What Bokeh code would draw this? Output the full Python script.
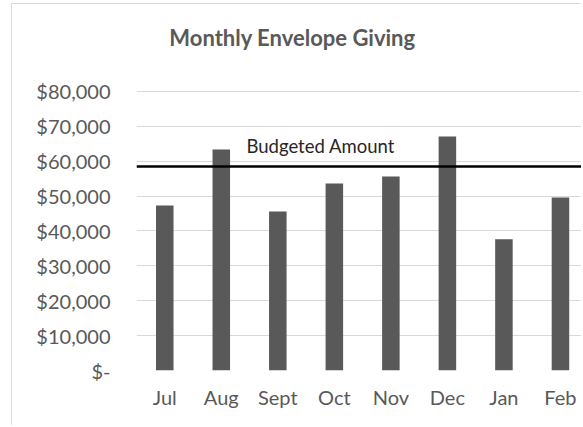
from bokeh.plotting import figure
from bokeh.models import Range1d, FixedTicker, Span, Label, ColumnDataSource
from bokeh.embed import file_html
from bokeh.resources import INLINE

months = ["Jul", "Aug", "Sept", "Oct", "Nov", "Dec", "Jan", "Feb"]
giving = [47300, 63400, 45600, 53600, 55600, 67100, 37600, 49600]
budget = 58500
y_ticks = [0, 10000, 20000, 30000, 40000, 50000, 60000, 70000, 80000]
y_tick_labels = ["$-", "$10,000", "$20,000", "$30,000", "$40,000",
                 "$50,000", "$60,000", "$70,000", "$80,000"]
title_text = "Monthly Envelope Giving"
budget_text = "Budgeted Amount"

FONT = "Lato"
GRAY = "#595959"

xs = list(range(len(months)))
src = ColumnDataSource(dict(x=xs, top=giving))

p = figure(width=570, height=422, output_backend="svg", toolbar_location=None,
           x_range=Range1d(-0.5, 7.39), y_range=Range1d(0, 104946),
           min_border_left=124, min_border_right=0, min_border_top=0,
           min_border_bottom=56)
p.styles = {"margin-left": "11px", "margin-top": "3px",
            "border-left": "1px solid #d9d9d9", "border-top": "1px solid #d9d9d9",
            "border-right": "none", "border-bottom": "none",
            "outline": "none", "box-shadow": "none"}
p.outline_line_color = None
p.background_fill_color = "white"
p.border_fill_color = "white"

p.vbar(x="x", top="top", width=0.31, bottom=0, source=src,
       fill_color=GRAY, line_color=None)

p.add_layout(Span(location=budget, dimension="width", line_color="black",
                  line_width=2.5))

p.add_layout(Label(x=110, y=225, x_units="screen", y_units="screen",
                   text=budget_text, text_font=FONT, text_font_size="18.5px",
                   text_color="#262626", text_align="left",
                   text_baseline="alphabetic"))

p.add_layout(Label(x=156, y=333, x_units="screen", y_units="screen",
                   text=title_text, text_font=FONT, text_font_size="22px",
                   text_font_style="bold", text_color=GRAY,
                   text_align="center", text_baseline="alphabetic"))

# x axis
p.xaxis.ticker = FixedTicker(ticks=xs)
p.xaxis.major_label_overrides = {i: m for i, m in zip(xs, months)}
p.xaxis.axis_line_color = None
p.xaxis.major_tick_line_color = None
p.xaxis.minor_tick_line_color = None
p.xaxis.major_tick_out = 0
p.xaxis.major_tick_in = 0
p.xaxis.major_label_standoff = 14
p.xaxis.major_label_text_font = FONT
p.xaxis.major_label_text_font_size = "20px"
p.xaxis.major_label_text_color = GRAY
p.xgrid.grid_line_color = None

# y axis
p.yaxis.ticker = FixedTicker(ticks=y_ticks)
p.yaxis.major_label_overrides = {t: l for t, l in zip(y_ticks, y_tick_labels)}
p.yaxis.axis_line_color = None
p.yaxis.major_tick_line_color = None
p.yaxis.minor_tick_line_color = None
p.yaxis.major_tick_out = 0
p.yaxis.major_tick_in = 0
p.yaxis.major_label_standoff = 26
p.yaxis.major_label_text_font = FONT
p.yaxis.major_label_text_font_size = "20px"
p.yaxis.major_label_text_color = GRAY
p.ygrid.grid_line_color = "#d9d9d9"
p.ygrid.grid_line_width = 1.2

open("out.html", "w").write(file_html(p, INLINE))
